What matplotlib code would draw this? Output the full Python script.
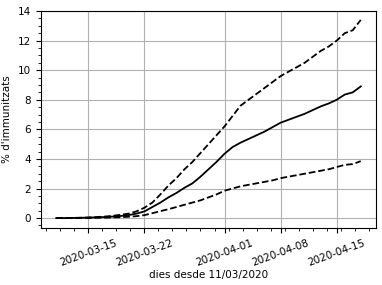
import numpy as np
import pandas as pd
import matplotlib
matplotlib.use("Agg")
import matplotlib.pyplot as plt
import matplotlib.dates as mdates
from matplotlib.ticker import FixedLocator, MultipleLocator

dates = pd.date_range("2020-03-11", "2020-04-18", freq="D")

mid = [0.00, 0.00, 0.01, 0.02, 0.03, 0.05, 0.07, 0.10, 0.14, 0.20,
       0.30, 0.45, 0.75, 1.05, 1.40, 1.70, 2.05, 2.35, 2.80, 3.30,
       3.80, 4.35, 4.80, 5.10, 5.35, 5.60, 5.85, 6.15, 6.45, 6.65,
       6.85, 7.05, 7.30, 7.55, 7.75, 8.00, 8.35, 8.50, 8.90]

upper = [0.00, 0.00, 0.01, 0.02, 0.04, 0.07, 0.10, 0.15, 0.22, 0.30,
         0.45, 0.70, 1.05, 1.60, 2.20, 2.70, 3.30, 3.80, 4.40, 5.00,
         5.60, 6.20, 6.90, 7.60, 8.00, 8.40, 8.80, 9.20, 9.60, 9.90,
         10.20, 10.50, 10.90, 11.30, 11.60, 12.00, 12.50, 12.70, 13.40]

lower = [0.00, 0.00, 0.00, 0.01, 0.01, 0.02, 0.03, 0.04, 0.06, 0.09,
         0.13, 0.20, 0.33, 0.47, 0.60, 0.75, 0.90, 1.05, 1.20, 1.40,
         1.60, 1.85, 2.00, 2.15, 2.25, 2.35, 2.45, 2.55, 2.70, 2.80,
         2.90, 3.00, 3.10, 3.20, 3.30, 3.45, 3.60, 3.65, 3.85]

fig = plt.figure(figsize=(3.82, 2.85), dpi=100)
ax = fig.add_axes([41/382, 1 - 228/285, (376-41)/382, (228-11)/285])

ax.plot(dates, mid, color="black", linestyle="-", linewidth=1.3)
ax.plot(dates, upper, color="black", linestyle="--", linewidth=1.3)
ax.plot(dates, lower, color="black", linestyle="--", linewidth=1.3)

ax.xaxis.set_major_locator(mdates.DayLocator(bymonthday=[1, 8, 15, 22]))
ax.xaxis.set_major_formatter(mdates.DateFormatter("%Y-%m-%d"))
base = mdates.date2num(pd.Timestamp("2020-03-15"))
minor_locs = base + 1.75 * np.arange(-4, 22)
ax.xaxis.set_minor_locator(FixedLocator(minor_locs))
ax.yaxis.set_major_locator(MultipleLocator(2))
ax.yaxis.set_minor_locator(MultipleLocator(0.5))
ax.set_ylim(-0.67, 14.0)
x0 = mdates.date2num(dates[0]); x1 = mdates.date2num(dates[-1])
ax.set_xlim(x0 - 0.05 * (x1 - x0), x1 + 0.05 * (x1 - x0))

ax.grid(True, which="major", color="#b0b0b0", linewidth=0.8)
ax.tick_params(labelsize=7.5)
for lbl in ax.get_xticklabels():
    lbl.set_rotation(20)
    lbl.set_ha("center")

ax.set_xlabel("dies desde 11/03/2020", fontsize=7.5, labelpad=2)
ax.set_ylabel("% d'immunitzats", fontsize=7.5)

fig.savefig("out.png", dpi=100)
